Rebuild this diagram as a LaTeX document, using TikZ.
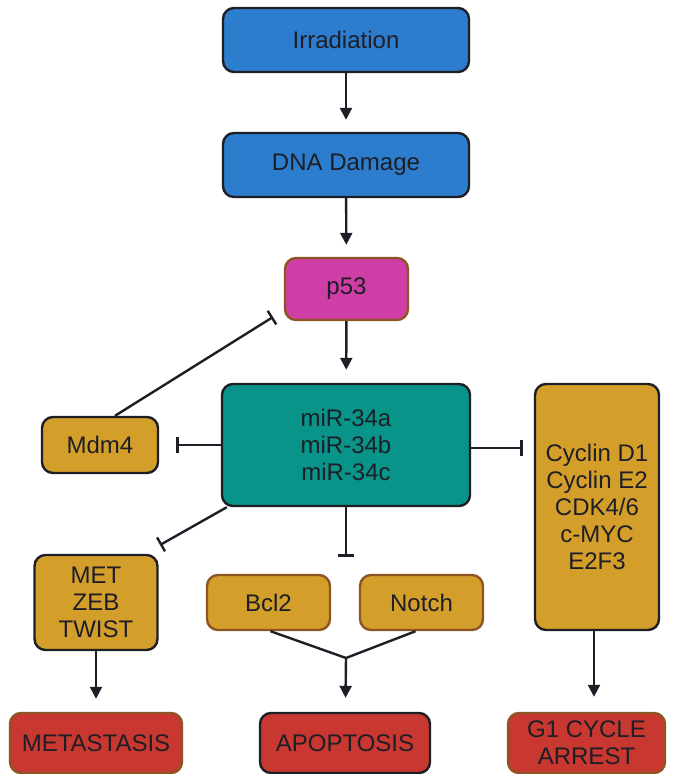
\documentclass[tikz,border=0pt]{standalone}
\usepackage{fontspec}
\setmainfont{Liberation Sans}
\usetikzlibrary{arrows.meta}

\begin{document}
\begin{tikzpicture}[x=1pt,y=-1pt]
		
		\definecolor{boxblue}{RGB}{44,125,205}
		\definecolor{boxpink}{RGB}{206,62,166}
		\definecolor{boxteal}{RGB}{8,148,136}
		\definecolor{boxgold}{RGB}{211,159,42}
		\definecolor{boxred}{RGB}{200,56,48}
		\definecolor{rimbrown}{RGB}{140,85,35}
		\definecolor{inkdark}{RGB}{30,30,38}
		
		\useasboundingbox (0,0) rectangle (673,774);
		
		\tikzstyle{edge} = [draw=inkdark, line width=2.4pt]
		\tikzstyle{act} = [edge, -{Triangle[width=12pt,length=12pt]}]
		\tikzstyle{inhib} = [edge, -{Bar[width=16pt,line width=2.4pt]}]
		
		\tikzset{box/.style = {shape=rectangle, rounded corners=11pt, line width=2.4pt, draw=inkdark, text=inkdark, align=center, inner sep=0pt, font=\fontsize{24}{27}\selectfont}}
		\node[box, fill=boxblue, minimum width=246pt, minimum height=64pt] (irr) at (346,40) {Irradiation};
		\node[box, fill=boxblue, minimum width=246pt, minimum height=64pt] (dna) at (346,165) {DNA Damage};
		\node[box, fill=boxpink, draw=rimbrown, minimum width=123pt, minimum height=62pt] (p53) at (346.5,289) {p53};
		\node[box, fill=boxteal, minimum width=248pt, minimum height=122pt] (mir) at (346,445) {miR-34a\\miR-34b\\miR-34c};
		\node[box, fill=boxgold, minimum width=116pt, minimum height=56pt] (mdm) at (100,445) {Mdm4};
		\node[box, fill=boxgold, minimum width=124pt, minimum height=246pt] (cyc) at (597,507) {Cyclin D1\\Cyclin E2\\CDK4/6\\c-MYC\\E2F3};
		\node[box, fill=boxgold, minimum width=123pt, minimum height=95pt] (met) at (96,602.5) {MET\\ZEB\\TWIST};
		\node[box, fill=boxgold, draw=rimbrown, minimum width=123pt, minimum height=55pt] (bcl) at (268.5,602.5) {Bcl2};
		\node[box, fill=boxgold, draw=rimbrown, minimum width=123pt, minimum height=55pt] (notch) at (421.5,602.5) {Notch};
		
		\tikzset{box/.append style = {fill=boxred, minimum height=60pt}}
		\node[box, draw=rimbrown, minimum width=172pt] (meta) at (96,743) {METASTASIS};
		\node[box, minimum width=170pt] (apo) at (345,743) {APOPTOSIS};
		\node[box, draw=rimbrown, minimum width=157pt] (g1) at (586.5,743) {G1 CYCLE\\ARREST};
		
		\coordinate (p53bar) at (273,317);
		\coordinate (metbar) at (160,545);
		\coordinate (join) at (346,658);
		
		\draw[act, shorten >=12pt] (irr) to (dna);
		\draw[act, shorten >=12pt] (dna) to (p53);
		\draw[act, shorten >=13pt] (p53) to (mir);
		\draw[inhib] ([xshift=15pt]mdm.north) to (p53bar);
		\draw[inhib, shorten >=17pt] (mir) to (mdm);
		\draw[inhib, shorten >=11pt] ([yshift=-3pt]mir.east) to ([yshift=-3pt]mir.east -| cyc.west);
		\draw[inhib] ([xshift=6pt]mir.south west) to (metbar);
		\draw[inhib, shorten >=17pt] (mir.south) to (mir.south |- bcl.north);
		\draw[edge] ([xshift=2pt]bcl.south) to (join);
		\draw[edge] ([xshift=-6pt]notch.south) to (join);
		\draw[act, shorten >=14pt] (join) to (apo);
		\draw[act, shorten >=13pt] (met) to (meta);
		\draw[act, shorten >=15pt] ([xshift=-3pt]cyc.south) to ([xshift=-3pt]cyc.south |- g1.north);
		\end{tikzpicture}
\end{document}
